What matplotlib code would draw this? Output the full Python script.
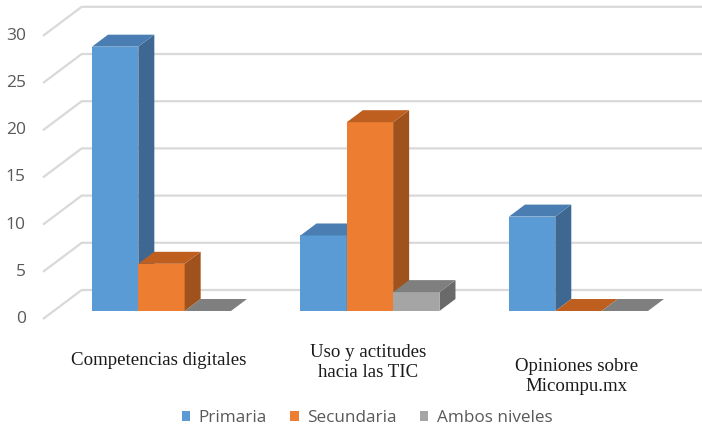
import matplotlib
matplotlib.use("Agg")
import matplotlib.pyplot as plt
from matplotlib.patches import Polygon, Patch

# ---- data ----
categories = ["Competencias digitales", "Uso y actitudes\nhacia las TIC", "Opiniones sobre\nMicompu.mx"]
series_names = ["Primaria", "Secundaria", "Ambos niveles"]
primaria = [28, 8, 10]
secundaria = [5, 20, 0]
ambos = [0, 2, 0]
y_ticks = [0, 5, 10, 15, 20, 25, 30]

# ---- style ----
faces = {  # front, top, side
    "Primaria": ("#5B9BD5", "#4A7EB2", "#3E6892"),
    "Secundaria": ("#ED7D31", "#BE5F20", "#A0521C"),
    "Ambos niveles": ("#A5A5A5", "#7F7F7F", "#6A6A6A"),
}
grid_color = "#D9D9D9"
text_gray = "#595959"

W, H, DPI = 702, 429, 100
bar_px = 46.33          # bar width in pixels
unit_px = 9.44          # pixels per value unit
x0_px, y0_px = 92, 311  # front-left-bottom corner of first bar

group_step = 4.5        # in bar widths
depth = (16 / bar_px, 12 / unit_px)   # oblique depth vector of a bar
wall_front, wall_back = -0.67, 1.75   # side wall extent (in bar depths)
wall_x = -0.827                        # side wall plane (x at depth 0)

fig = plt.figure(figsize=(W / DPI, H / DPI), dpi=DPI)
ax = fig.add_axes([0, 0, 1, 1])
ax.set_xlim(-x0_px / bar_px, (W - x0_px) / bar_px)
ax.set_ylim((y0_px - H) / unit_px, y0_px / unit_px)
ax.axis("off")


def shift(x, y, k):
    return x + k * depth[0], y + k * depth[1]


# gridlines: side wall diagonals + back wall horizontals
x_right = ax.get_xlim()[1]
for v in y_ticks:
    fx, fy = shift(wall_x, v, wall_front)
    bx, by = shift(wall_x, v, wall_back)
    ax.plot([fx, bx, x_right], [fy, by, by], color=grid_color, lw=1.6,
            solid_capstyle="butt", zorder=1)
    ax.text(fx - 0.37, fy, str(v), ha="right", va="center", fontsize=12.5,
            color=text_gray, family="Open Sans")

# bars
values = [primaria, secundaria, ambos]
for gi in range(len(categories)):
    for si, name in enumerate(series_names):
        v = values[si][gi]
        xl = gi * group_step + si
        xr = xl + 1
        front, top, side = faces[name]
        z = 3 + si
        if v > 0:
            ax.add_patch(Polygon([(xl, 0), (xr, 0), (xr, v), (xl, v)],
                                 closed=True, fc=front, ec="none", zorder=z))
            ax.add_patch(Polygon([(xr, 0), shift(xr, 0, 1), shift(xr, v, 1), (xr, v)],
                                 closed=True, fc=side, ec="none", zorder=z))
        ax.add_patch(Polygon([(xl, v), (xr, v), shift(xr, v, 1), shift(xl, v, 1)],
                             closed=True, fc=top, ec="none", zorder=z))

# category labels
label_v = [-5.2, -5.5, -6.95]
for gi, cat in enumerate(categories):
    cx = gi * group_step + 1.45
    ax.text(cx, label_v[gi], cat, ha="center", va="center", fontsize=13.6,
            color="#1A1A1A", family="Liberation Serif", linespacing=1.22)

handles = [Patch(facecolor=faces[n][0], edgecolor="none") for n in series_names]
fig.legend(handles, series_names, loc="center", bbox_to_anchor=(0.523, 11 / H),
           ncol=3, frameon=False, handlelength=0.5, handleheight=0.5,
           handletextpad=0.5, columnspacing=1.35,
           prop={"family": "Open Sans", "size": 12.3}, labelcolor=text_gray)

fig.savefig("out.png", dpi=DPI)
